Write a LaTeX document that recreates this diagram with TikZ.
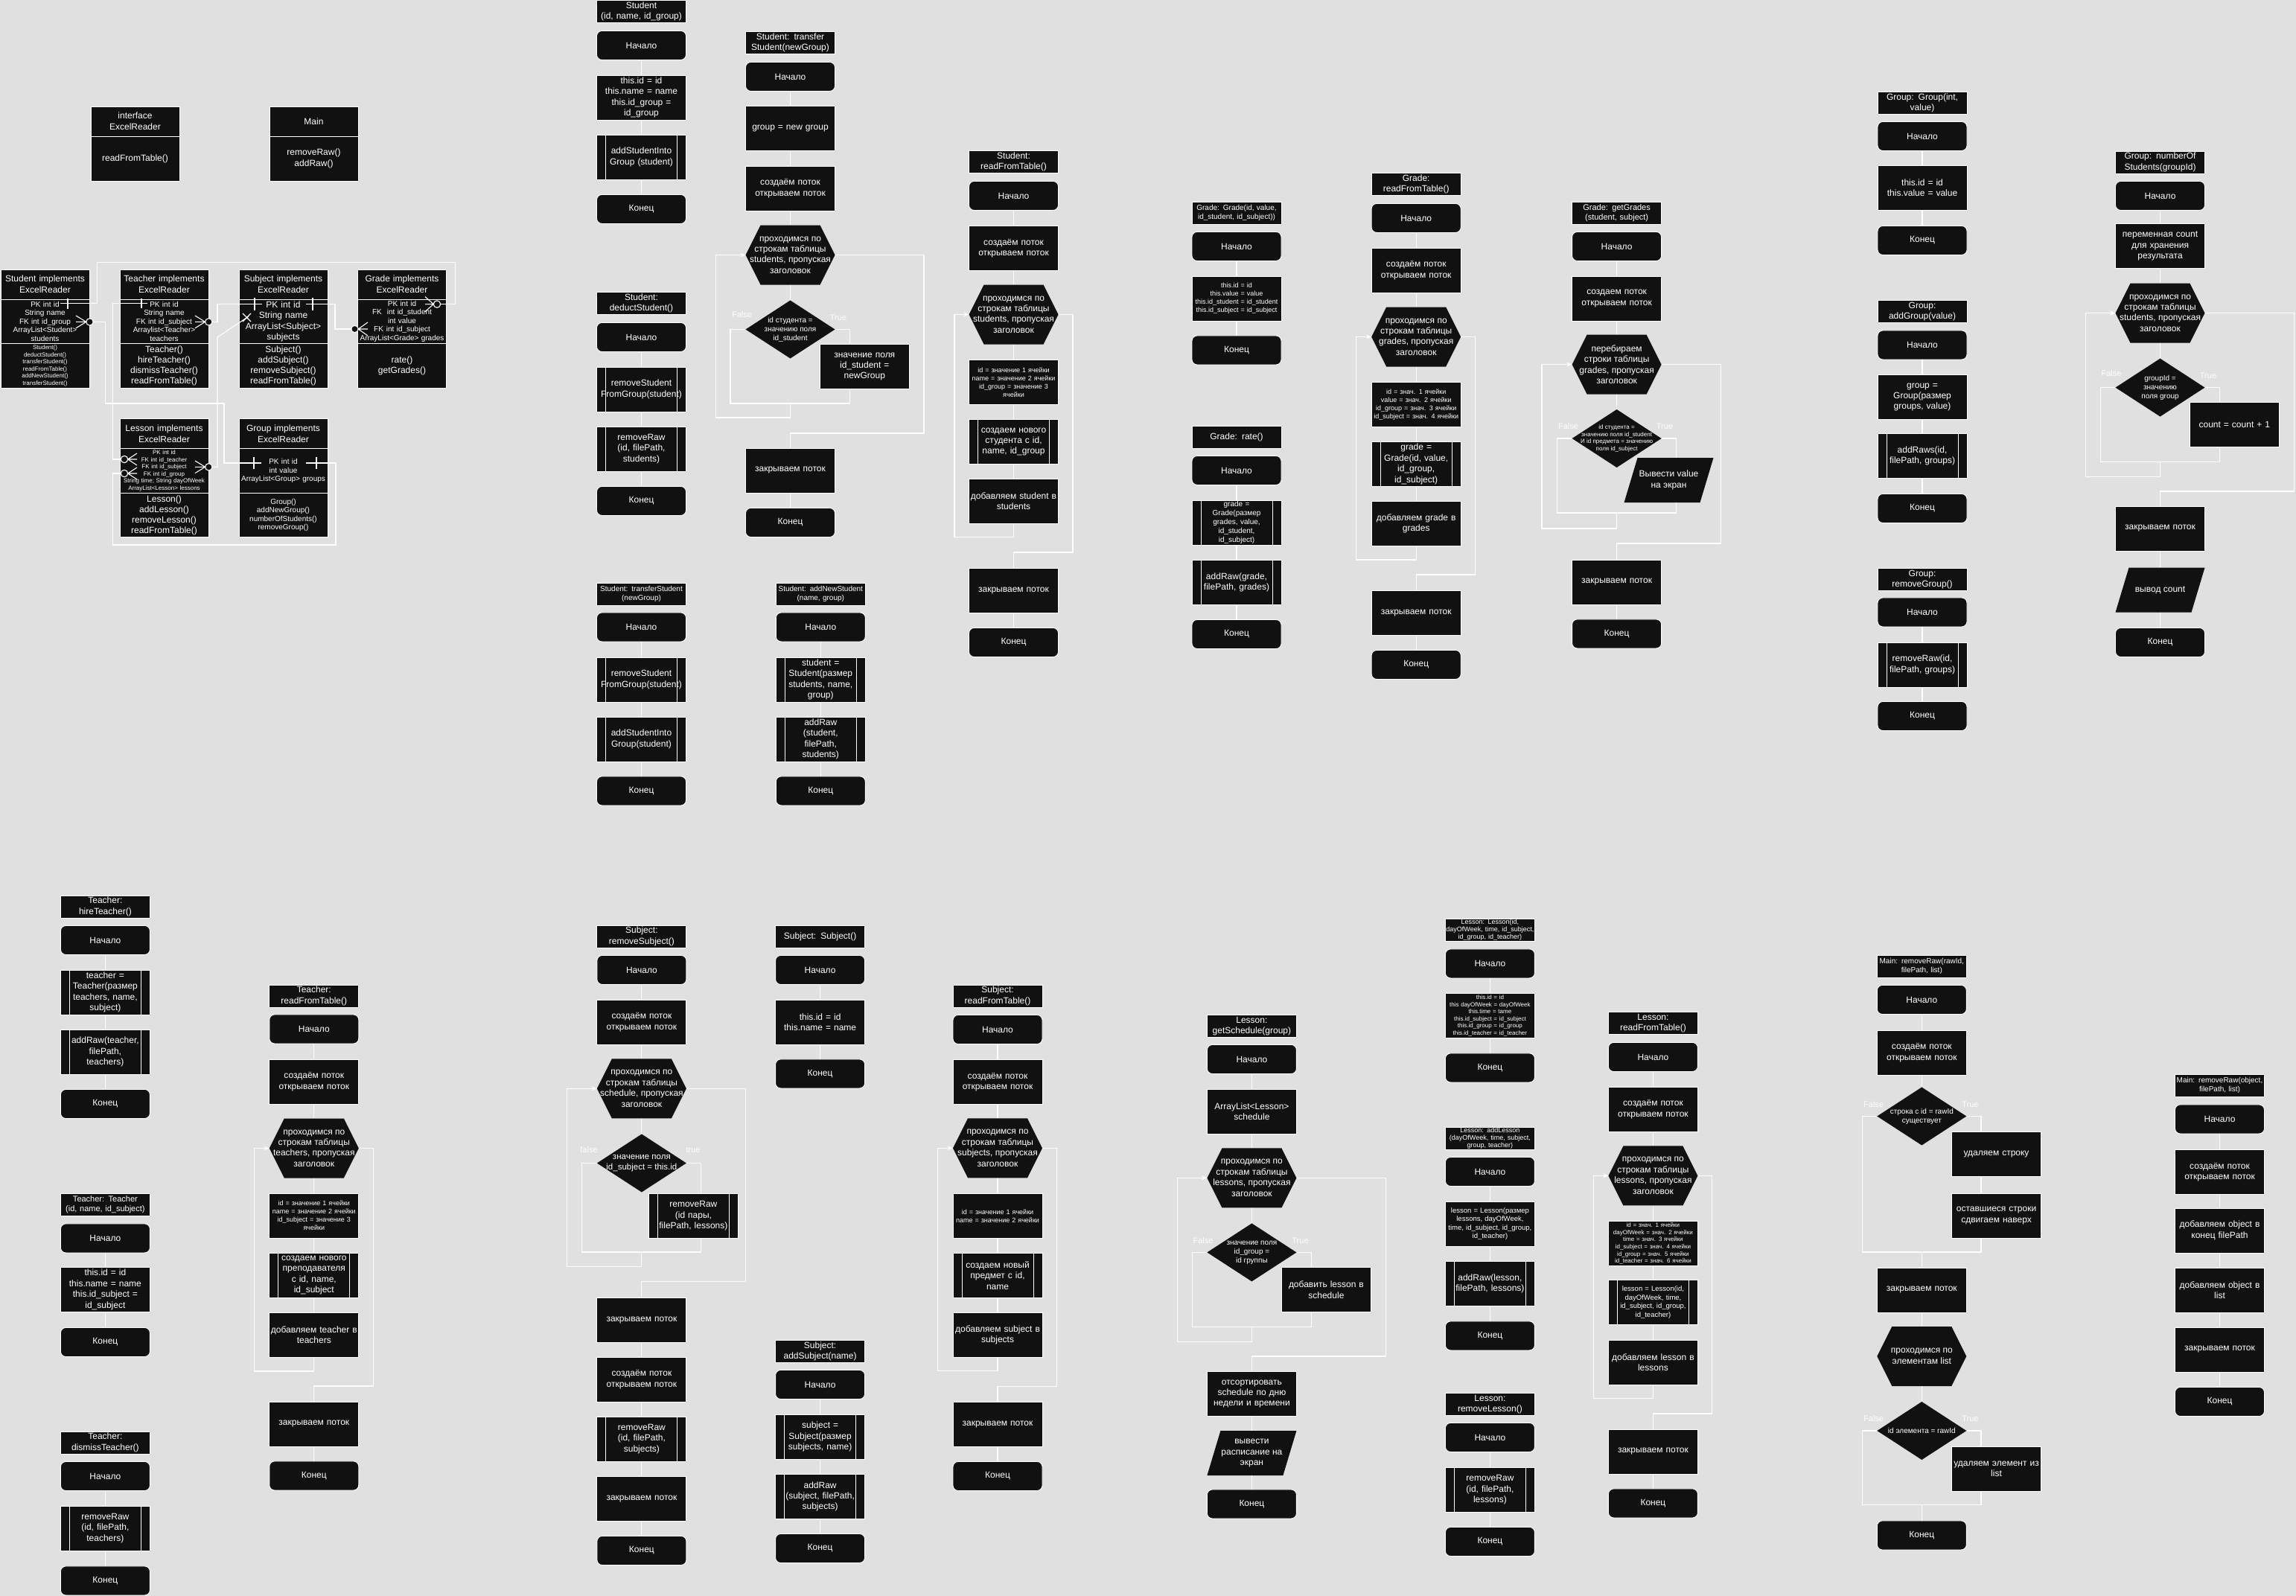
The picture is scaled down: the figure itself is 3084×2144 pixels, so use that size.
\documentclass[tikz,border=0pt]{standalone}
\usepackage{fontspec}
\setmainfont{Liberation Sans}
\usetikzlibrary{arrows.meta}
\definecolor{bgc}{HTML}{E0E0E0}
\definecolor{bx}{HTML}{111111}
\newcommand\fsN{\fontsize{12}{14.4}\selectfont}
\newcommand\fsS{\fontsize{9}{11}\selectfont}
\newcommand\fsT{\fontsize{8}{9.6}\selectfont}
\newcommand\fsD{\fontsize{10}{12}\selectfont}
\newcommand\fsC{\fontsize{10}{11.6}\selectfont}
\newcommand\fsE{\fontsize{11}{13.5}\selectfont}
\newcommand\fsF{\fontsize{9.5}{11.5}\selectfont}
\newcommand\fsL{\fontsize{9}{10}\selectfont}
\newcommand\fsU{\fontsize{12}{15}\selectfont}
\newcommand\fsV{\fontsize{12}{14}\selectfont}
\newcommand\fsW{\fontsize{12}{14.5}\selectfont}
\tikzset{
 box/.style={draw=white, line width=0.9pt, fill=bx, text=white, align=center, inner sep=1pt, minimum width=120pt, text width=118pt, anchor=north, font=\fsN},
 proc/.style={box, minimum height=60pt},
 term/.style={box, rounded corners=7pt, minimum height=39pt},
 ttl/.style={box, minimum height=30pt},
 sub/.style={proc, path picture={\draw[white,line width=0.9pt] ([xshift=12pt]path picture bounding box.north west) -- ([xshift=12pt]path picture bounding box.south west) ([xshift=-12pt]path picture bounding box.north east) -- ([xshift=-12pt]path picture bounding box.south east);}},
 cls/.style={box, text width=117pt, minimum width=119pt},
 shtxt/.style={inner sep=0pt, minimum width=120pt, minimum height=78pt, align=center, text=white, font=\fsN},
 shp/.style={fill=bx},
 ln/.style={draw=white, line width=1.1pt},
 arr/.style={ln, -{Stealth[length=7pt,width=6pt]}},
 lab/.style={text=white, font=\fsE, inner sep=0pt},
}
\newcommand\hexs[4]{\fill[shp] (#2-60,#3) -- (#2-40,#3-40) -- (#2+40,#3-40) -- (#2+60,#3) -- (#2+40,#3+40) -- (#2-40,#3+40) -- cycle;
 \node[shtxt,minimum height=80pt] (#1) at (#2,#3) {#4};}
\newcommand\dias[5]{\fill[shp] (#2-60,#3) -- (#2,#3-39) -- (#2+60,#3) -- (#2,#3+39) -- cycle;
 \node[shtxt,font=#4] (#1) at (#2,#3) {#5};}
\newcommand\paras[5]{\fill[shp] (#2-60,#3+#4/2) -- (#2-42,#3-#4/2) -- (#2+60,#3-#4/2) -- (#2+42,#3+#4/2) -- cycle;
 \node[shtxt,minimum height=#4pt] (#1) at (#2,#3) {#5};}
\begin{document}
\begin{tikzpicture}[x=1pt,y=-1pt]
\useasboundingbox (0,0) rectangle (3084,2144);
\fill[bgc] (0,0) rectangle (3084,2144);

% ================= UML =================
\node[cls,minimum height=39.5pt,font=\fsU] (ifH) at (181.5,143) {interface\\ExcelReader};
\node[cls,minimum height=60.5pt,font=\fsU] (ifB) at (181.5,182.5) {readFromTable()};
\node[cls,minimum height=39.5pt,font=\fsU] (mnH) at (421.5,143) {Main};
\node[cls,minimum height=60.5pt,font=\fsU] (mnB) at (421.5,182.5) {removeRaw()\\addRaw()};

\node[cls,minimum height=39.5pt,font=\fsU] (stuH) at (60.5,362) {Student implements\\ExcelReader};
\node[cls,minimum height=59.5pt,font=\fsC] (stuA) at (60.5,401.5) {PK int id\\String name\\FK int id\_group\\ArrayList<Student>\\students};
\node[cls,minimum height=60pt,font=\fsT] (stuM) at (60.5,461) {Student()\\deductStudent()\\transferStudent()\\readFromTable()\\addNewStudent()\\transferStudent()};

\node[cls,minimum height=39.5pt,font=\fsU] (teaH) at (220.5,362) {Teacher implements\\ExcelReader};
\node[cls,minimum height=59.5pt,font=\fsC] (teaA) at (220.5,401.5) {PK int id\\String name\\FK int id\_subject\\Arraylist<Teacher>\\teachers};
\node[cls,minimum height=60pt,font=\fsV] (teaM) at (220.5,461) {Teacher()\\hireTeacher()\\dismissTeacher()\\readFromTable()};

\node[cls,minimum height=39.5pt,font=\fsU] (subH) at (380.5,362) {Subject implements\\ExcelReader};
\node[cls,minimum height=59.5pt,font=\fsW] (subA) at (380.5,401.5) {PK int id\\String name\\ArrayList<Subject>\\subjects};
\node[cls,minimum height=60pt,font=\fsV] (subM) at (380.5,461) {Subject()\\addSubject()\\removeSubject()\\readFromTable()};

\node[cls,minimum height=39.5pt,font=\fsU] (grH) at (540,362) {Grade implements\\ExcelReader};
\node[cls,minimum height=59.5pt,font=\fsC] (grA) at (540,401.5) {PK int id\\FK\hspace{7pt}int id\_student\\int value\\FK\hspace{4pt}int id\_subject\\ArrayList<Grade> grades};
\node[cls,minimum height=60pt,font=\fsV] (grM) at (540,461) {rate()\\getGrades()};

\node[cls,minimum height=40pt,font=\fsU] (leH) at (220.5,562) {Lesson implements\\ExcelReader};
\node[cls,minimum height=60pt,font=\fsT] (leA) at (220.5,602) {PK int id\\FK int id\_teacher\\FK int id\_subject\\FK int id\_group\\String time; String dayOfWeek\\ArrayList<Lesson> lessons};
\node[cls,minimum height=59pt,font=\fsV] (leM) at (220.5,662) {Lesson()\\addLesson()\\removeLesson()\\readFromTable()};

\node[cls,minimum height=40pt,font=\fsU] (grpH) at (380.5,562) {Group implements\\ExcelReader};
\node[cls,minimum height=60pt,font=\fsC] (grpA) at (380.5,602) {PK int id\\int value\\ArrayList<Group> groups};
\node[cls,minimum height=59pt,font=\fsC] (grpM) at (380.5,662) {Group()\\addNewGroup()\\numberOfStudents()\\removeGroup()};

% ER connectors
\draw[ln] (81,407.5) -- (130.5,407.5) -- (130.5,352.5) -- (611.7,352.5) -- (611.7,408.6) -- (591.7,408.6);
\draw[ln] (91,400.5) -- (91,414.5);
\draw[ln] (571,398.6) -- (582.3,408.6) -- (571,418.6) (571,408.6) -- (582.3,408.6);
\draw[ln,fill=bx] (587,408.6) circle [radius=4.7pt];

\draw[ln] (102,424) -- (115.8,432.4) -- (102,440.8) (102,432.4) -- (115.8,432.4);
\draw[ln,fill=bx] (120.5,432.4) circle [radius=4.7pt];
\draw[ln] (125.2,432.4) -- (141.5,432.4) -- (141.5,542) -- (301,542) -- (301,622) -- (351,622);
\draw[ln] (341,614) -- (341,630);

\draw[ln] (198,407.5) -- (151.4,407.5) -- (151.4,617) -- (162.3,617);
\draw[ln] (190,401) -- (190,414);
\draw[ln,fill=bx] (167,617) circle [radius=4.7pt];
\draw[ln] (184,609) -- (171.7,617) -- (184,625) (171.7,617) -- (184,617);

\draw[ln] (262,424) -- (275.6,432.4) -- (262,440.8) (262,432.4) -- (275.6,432.4);
\draw[ln,fill=bx] (280.3,432.4) circle [radius=4.7pt];
\draw[ln] (285,432.4) -- (292,432.4) -- (292,408.6) -- (352,408.6);
\draw[ln] (342,400) -- (342,417);

\draw[ln] (411,408.6) -- (450,408.6) -- (450,442) -- (471.8,442);
\draw[ln] (420,400) -- (420,417);
\draw[ln,fill=bx] (476.5,442) circle [radius=4.7pt];
\draw[ln] (494,433) -- (481.2,442) -- (494,451) (481.2,442) -- (494,442);

\draw[ln] (326,421) -- (337,432) (326,432) -- (337,421);
\draw[ln] (334,425) -- (292,453) -- (292,627.3) -- (285,627.3);
\draw[ln,fill=bx] (280.3,627.3) circle [radius=4.7pt];
\draw[ln] (262,619) -- (275.6,627.3) -- (262,635.6) (262,627.3) -- (275.6,627.3);

\draw[ln,fill=bx] (167,636) circle [radius=4.7pt];
\draw[ln] (184,628) -- (171.7,636) -- (184,644) (171.7,636) -- (184,636);
\draw[ln] (162.3,636) -- (151.4,636) -- (151.4,732) -- (451,732) -- (451,622) -- (411,622);
\draw[ln] (425,614) -- (425,630);

% ================= Column A =================
\node[ttl] (A1) at (861.5,0) {Student\\(id, name, id\_group)};
\node[term] (A2) at (861.5,41) {Начало};
\node[proc] (A3) at (861.5,100.5) {this.id = id\\this.name = name\\this.id\_group =\\id\_group};
\node[sub] (A4) at (861.5,180.5) {addStudentInto\\Group (student)};
\node[term] (A5) at (861.5,261) {Конец};
\draw[ln] (A2.south)--(A3.north) (A3.south)--(A4.north) (A4.south)--(A5.north);
\node[ttl] (A6) at (861.5,392) {Student:\\deductStudent()};
\node[term] (A7) at (861.5,433) {Начало};
\node[sub] (A8) at (861.5,492.5) {removeStudent\\FromGroup(student)};
\node[sub] (A9) at (861.5,572.5) {removeRaw\\(id, filePath,\\students)};
\node[term] (A10) at (861.5,653) {Конец};
\draw[ln] (A7.south)--(A8.north) (A8.south)--(A9.north) (A9.south)--(A10.north);
\node[ttl,font=\fsD] (A11) at (861.5,782.5) {Student: transferStudent\\(newGroup)};
\node[term] (A12) at (861.5,822.5) {Начало};
\node[sub] (A13) at (861.5,882.5) {removeStudent\\FromGroup(student)};
\node[sub] (A14) at (861.5,962.5) {addStudentInto\\Group(student)};
\node[term] (A15) at (861.5,1042.5) {Конец};
\draw[ln] (A12.south)--(A13.north) (A13.south)--(A14.north) (A14.south)--(A15.north);

% addNewStudent
\node[ttl,font=\fsD] (N1) at (1102.3,782.5) {Student: addNewStudent\\(name, group)};
\node[term] (N2) at (1102.3,822.5) {Начало};
\node[sub] (N3) at (1102.3,882.5) {student =\\Student(размер\\students, name,\\group)};
\node[sub] (N4) at (1102.3,962.5) {addRaw\\(student,\\filePath,\\students)};
\node[term] (N5) at (1102.3,1042.5) {Конец};
\draw[ln] (N2.south)--(N3.north) (N3.south)--(N4.north) (N4.south)--(N5.north);

% ================= Column B: transferStudent =================
\node[ttl] (B1) at (1061.5,42) {Student: transfer\\Student(newGroup)};
\node[term] (B2) at (1061.5,83) {Начало};
\node[proc] (B3) at (1061.5,142) {group = new group};
\node[proc] (B4) at (1061.5,222.5) {создаём поток\\открываем поток};
\hexs{B5}{1061.5}{342.5}{проходимся по\\строкам таблицы\\students, пропуская\\заголовок}
\dias{B6}{1061.5}{442.5}{\fsD}{id студента =\\значению поля\\id\_student}
\node[proc] (B7) at (1161.3,462) {значение поля\\id\_student =\\newGroup};
\node[proc] (B8) at (1061.5,601.5) {закрываем поток};
\node[term] (B9) at (1061.5,682) {Конец};
\draw[ln] (B2.south)--(B3.north) (B3.south)--(B4.north) (B4.south)--(B5.north) (B5.south)--(B6.north) (B8.south)--(B9.north);
\draw[ln] (B6.west) -- (981,442.5) -- (981,542) -- (1141.5,542) -- (1141.5,522);
\draw[ln] (B6.east) -- (1141.5,442.5) -- (1141.5,462);
\draw[arr] (1061.5,542) -- (1061.5,561) -- (961.5,561) -- (961.5,342.5) -- (B5.west);
\draw[ln] (B5.east) -- (1241,342.5) -- (1241,582) -- (1061.5,582) -- (B8.north);
\node[lab] (B6f) at (996.5,423) {False};
\node[lab] (B6t) at (1126,427) {True};

% ================= Column C: Student readFromTable =================
\node[ttl] (C1) at (1361.5,202) {Student:\\readFromTable()};
\node[term] (C2) at (1361.5,243) {Начало};
\node[proc] (C3) at (1361.5,303) {создаём поток\\открываем поток};
\hexs{C4}{1361.5}{422.5}{проходимся по\\строкам таблицы\\students, пропуская\\заголовок}
\node[proc,font=\fsS] (C5) at (1361.5,483) {id = значение 1 ячейки\\name = значение 2 ячейки\\id\_group = значение 3\\ячейки};
\node[sub] (C6) at (1361.5,563) {создаем нового\\студента с id,\\name, id\_group};
\node[proc] (C7) at (1361.5,643) {добавляем student в\\students};
\node[proc] (C8) at (1361.5,763) {закрываем поток};
\node[term] (C9) at (1361.5,843) {Конец};
\draw[ln] (C2.south)--(C3.north) (C3.south)--(C4.north) (C4.south)--(C5.north) (C5.south)--(C6.north) (C6.south)--(C7.north) (C8.south)--(C9.north);
\draw[arr] (C7.south) -- (1361.5,721.5) -- (1282,721.5) -- (1282,422.5) -- (C4.west);
\draw[ln] (C4.east) -- (1441,422.5) -- (1441,742) -- (1361.5,742) -- (C8.north);

% ================= Column D: Grade =================
\node[ttl,font=\fsD] (D1) at (1661,270.5) {Grade: Grade(id, value,\\id\_student, id\_subject))};
\node[term] (D2) at (1661,311) {Начало};
\node[proc,font=\fsS] (D3) at (1661,370.5) {this.id = id\\this.value = value\\this.id\_student = id\_student\\this.id\_subject = id\_subject};
\node[term] (D4) at (1661,450.5) {Конец};
\draw[ln] (D2.south)--(D3.north) (D3.south)--(D4.north);
\node[ttl] (D5) at (1661,571.5) {Grade: rate()};
\node[term] (D6) at (1661,612) {Начало};
\node[sub,font=\fsD] (D7) at (1661,671.5) {grade =\\Grade(размер\\grades, value,\\id\_student,\\id\_subject)};
\node[sub] (D8) at (1661,752) {addRaw(grade,\\filePath, grades)};
\node[term] (D9) at (1661,832) {Конец};
\draw[ln] (D6.south)--(D7.north) (D7.south)--(D8.north) (D8.south)--(D9.north);

% ================= Column E: Grade readFromTable =================
\node[ttl] (E1) at (1902.2,232) {Grade:\\readFromTable()};
\node[term] (E2) at (1902.2,273) {Начало};
\node[proc] (E3) at (1902.2,332.5) {создаём поток\\открываем поток};
\hexs{E4}{1902.2}{452.5}{проходимся по\\строкам таблицы\\grades, пропуская\\заголовок}
\node[proc,font=\fsS] (E5) at (1902.2,513) {id = знач. 1 ячейки\\value = знач. 2 ячейки\\id\_group = знач. 3 ячейки\\id\_subject = знач. 4 ячейки};
\node[sub] (E6) at (1902.2,593) {grade =\\Grade(id, value,\\id\_group,\\id\_subject)};
\node[proc] (E7) at (1902.2,673) {добавляем grade в\\grades};
\node[proc] (E8) at (1902.2,793) {закрываем поток};
\node[term] (E9) at (1902.2,873) {Конец};
\draw[ln] (E2.south)--(E3.north) (E3.south)--(E4.north) (E4.south)--(E5.north) (E5.south)--(E6.north) (E6.south)--(E7.north) (E8.south)--(E9.north);
\draw[arr] (E7.south) -- (1902.2,752) -- (1821.7,752) -- (1821.7,452.5) -- (E4.west);
\draw[ln] (E4.east) -- (1981.6,452.5) -- (1981.6,772) -- (1902.2,772) -- (E8.north);

% ================= Column F: getGrades =================
\node[ttl,font=\fsE] (F1) at (2171.6,270.5) {Grade: getGrades\\(student, subject)};
\node[term] (F2) at (2171.6,311) {Начало};
\node[proc] (F3) at (2171.6,370.5) {создаем поток\\открываем поток};
\hexs{F4}{2171.6}{489.5}{перебираем\\строки таблицы\\grades, пропуская\\заголовок}
\dias{F5}{2171.6}{589}{\fsT}{id студента =\\значению поля id\_student\\И id предмета = значению\\поля id\_subject}
\paras{F6}{2241.5}{645}{60}{Вывести value\\на экран}
\node[proc] (F7) at (2171.6,751.5) {закрываем поток};
\node[term] (F8) at (2171.6,831.5) {Конец};
\draw[ln] (F2.south)--(F3.north) (F3.south)--(F4.north) (F4.south)--(F5.north) (F7.south)--(F8.north);
\draw[ln] (F5.west) -- (2091.5,589) -- (2091.5,689) -- (2251.6,689) -- (2251.6,675);
\draw[ln] (F5.east) -- (2251.6,589) -- (2251.6,615);
\draw[arr] (2171.6,689) -- (2171.6,710) -- (2071,710) -- (2071,489.5) -- (F4.west);
\draw[ln] (F4.east) -- (2311.4,489.5) -- (2311.4,730) -- (2171.6,730) -- (F7.north);
\node[lab] (F5f) at (2106.5,573) {False};
\node[lab] (F5t) at (2236,573) {True};

% ================= Column G: Group =================
\node[ttl] (G1) at (2582,123) {Group: Group(int,\\value)};
\node[term] (G2) at (2582,163) {Начало};
\node[proc] (G3) at (2582,222) {this.id = id\\this.value = value};
\node[term] (G4) at (2582,303) {Конец};
\draw[ln] (G2.south)--(G3.north) (G3.south)--(G4.north);
\node[ttl] (G5) at (2582,403) {Group:\\addGroup(value)};
\node[term] (G6) at (2582,443.5) {Начало};
\node[proc] (G7) at (2582,503) {group =\\Group(размер\\groups, value)};
\node[sub] (G8) at (2582,582) {addRaws(id,\\filePath, groups)};
\node[term] (G9) at (2582,663) {Конец};
\draw[ln] (G6.south)--(G7.north) (G7.south)--(G8.north) (G8.south)--(G9.north);
\node[ttl] (G10) at (2582,763) {Group:\\removeGroup()};
\node[term] (G11) at (2582,802.5) {Начало};
\node[sub] (G12) at (2582,862.5) {removeRaw(id,\\filePath, groups)};
\node[term] (G13) at (2582,942) {Конец};
\draw[ln] (G11.south)--(G12.north) (G12.south)--(G13.north);

% ================= Column H: numberOfStudents =================
\node[ttl] (H1) at (2901.5,202.5) {Group: numberOf\\Students(groupId)};
\node[term] (H2) at (2901.5,243) {Начало};
\node[proc] (H3) at (2901.5,300) {переменная count\\для хранения\\результата};
\hexs{H4}{2901.5}{420.6}{проходимся по\\строкам таблицы\\students, пропуская\\заголовок}
\dias{H5}{2901.5}{520.6}{\fsD}{groupId =\\значению\\поля group}
\node[proc] (H6) at (3001.3,540) {count = count + 1};
\node[proc] (H7) at (2901.5,679.5) {закрываем поток};
\paras{H8}{2901.5}{792.5}{60}{вывод count}
\node[term] (H9) at (2901.5,843) {Конец};
\draw[ln] (H2.south)--(H3.north) (H3.south)--(H4.north) (H4.south)--(H5.north) (H7.south)--(H8.north) (H8.south)--(H9.north);
\draw[ln] (H5.west) -- (2821.4,520.6) -- (2821.4,620.4) -- (2981.6,620.4) -- (2981.6,600);
\draw[ln] (H5.east) -- (2981.6,520.6) -- (2981.6,540);
\draw[arr] (2901.5,620.4) -- (2901.5,640.3) -- (2801.3,640.3) -- (2801.3,420.6) -- (H4.west);
\draw[ln] (H4.east) -- (3081.7,420.6) -- (3081.7,660) -- (2901.5,660) -- (H7.north);
\node[lab] (H5f) at (2836,501.7) {False};
\node[lab] (H5t) at (2966,505) {True};

% ================= Column T: Teacher =================
\node[ttl] (T1) at (141.4,1202.5) {Teacher:\\hireTeacher()};
\node[term] (T2) at (141.4,1243) {Начало};
\node[sub] (T3) at (141.4,1302.5) {teacher =\\Teacher(размер\\teachers, name,\\subject)};
\node[sub] (T4) at (141.4,1382.5) {addRaw(teacher,\\filePath,\\teachers)};
\node[term] (T5) at (141.4,1463) {Конец};
\draw[ln] (T2.south)--(T3.north) (T3.south)--(T4.north) (T4.south)--(T5.north);
\node[ttl,font=\fsE] (T6) at (141.4,1602.5) {Teacher: Teacher\\(id, name, id\_subject)};
\node[term] (T7) at (141.4,1643.5) {Начало};
\node[proc] (T8) at (141.4,1702) {this.id = id\\this.name = name\\this.id\_subject =\\id\_subject};
\node[term] (T9) at (141.4,1783) {Конец};
\draw[ln] (T7.south)--(T8.north) (T8.south)--(T9.north);
\node[ttl] (T10) at (141.4,1922.5) {Teacher:\\dismissTeacher()};
\node[term] (T11) at (141.4,1963) {Начало};
\node[sub] (T12) at (141.4,2022.5) {removeRaw\\(id, filePath,\\teachers)};
\node[term] (T13) at (141.4,2103.5) {Конец};
\draw[ln] (T11.south)--(T12.north) (T12.south)--(T13.north);

% ================= Column R: Teacher readFromTable =================
\node[ttl] (R1) at (421.8,1322.5) {Teacher:\\readFromTable()};
\node[term] (R2) at (421.8,1362.5) {Начало};
\node[proc] (R3) at (421.8,1422.5) {создаём поток\\открываем поток};
\hexs{R4}{421.8}{1542.5}{проходимся по\\строкам таблицы\\teachers, пропуская\\заголовок}
\node[proc,font=\fsS] (R5) at (421.8,1602.5) {id = значение 1 ячейки\\name = значение 2 ячейки\\id\_subject = значение 3\\ячейки};
\node[sub] (R6) at (421.8,1682.5) {создаем нового\\преподавателя\\с id, name,\\id\_subject};
\node[proc] (R7) at (421.8,1762.5) {добавляем teacher в\\teachers};
\node[proc] (R8) at (421.8,1882.5) {закрываем поток};
\node[term] (R9) at (421.8,1962.5) {Конец};
\draw[ln] (R2.south)--(R3.north) (R3.south)--(R4.north) (R4.south)--(R5.north) (R5.south)--(R6.north) (R6.south)--(R7.north) (R8.south)--(R9.north);
\draw[arr] (R7.south) -- (421.8,1842) -- (341.6,1842) -- (341.6,1542.5) -- (R4.west);
\draw[ln] (R4.east) -- (501.4,1542.5) -- (501.4,1862) -- (421.8,1862) -- (R8.north);

% ================= Column S: removeSubject =================
\node[ttl] (S1) at (861.9,1242.5) {Subject:\\removeSubject()};
\node[term] (S2) at (861.9,1283) {Начало};
\node[proc] (S3) at (861.9,1342.5) {создаём поток\\открываем поток};
\hexs{S4}{861.9}{1462.4}{проходимся по\\строкам таблицы\\schedule, пропуская\\заголовок}
\dias{S5}{861.9}{1562.5}{\fontsize{11.5}{14}\selectfont}{значение поля\\id\_subject = this.id}
\node[sub] (S6) at (931.4,1603) {removeRaw\\(id пары,\\filePath, lessons)};
\node[proc] (S7) at (861.9,1743) {закрываем поток};
\node[proc] (S8) at (861.9,1822.5) {создаём поток\\открываем поток};
\node[sub] (S9) at (861.9,1902.5) {removeRaw\\(id, filePath,\\subjects)};
\node[proc] (S10) at (861.9,1983) {закрываем поток};
\node[term] (S11) at (861.9,2063) {Конец};
\draw[ln] (S2.south)--(S3.north) (S3.south)--(S4.north) (S4.south)--(S5.north) (S7.south)--(S8.north) (S8.south)--(S9.north) (S9.south)--(S10.north) (S10.south)--(S11.north);
\draw[ln] (S5.west) -- (781.3,1562.5) -- (781.3,1682) -- (941.6,1682) -- (941.6,1663);
\draw[ln] (S5.east) -- (941.6,1562.5) -- (941.6,1603);
\draw[arr] (861.9,1682) -- (861.9,1701.2) -- (761.6,1701.2) -- (761.6,1462.4) -- (S4.west);
\draw[ln] (S4.east) -- (1001.2,1462.4) -- (1001.2,1721.8) -- (861.9,1721.8) -- (S7.north);
\node[lab] (S5f) at (791,1544.5) {false};
\node[lab] (S5t) at (931,1544.5) {true};

% ================= Column U: Subject() / addSubject =================
\node[ttl] (U1) at (1101.6,1242.5) {Subject: Subject()};
\node[term] (U2) at (1101.6,1283) {Начало};
\node[proc] (U3) at (1101.6,1342.5) {this.id = id\\this.name = name};
\node[term] (U4) at (1101.6,1422.5) {Конец};
\draw[ln] (U2.south)--(U3.north) (U3.south)--(U4.north);
\node[ttl] (U5) at (1101.6,1800) {Subject:\\addSubject(name)};
\node[term] (U6) at (1101.6,1840) {Начало};
\node[sub] (U7) at (1101.6,1899.5) {subject =\\Subject(размер\\subjects, name)};
\node[sub] (U8) at (1101.6,1980) {addRaw\\(subject, filePath,\\subjects)};
\node[term] (U9) at (1101.6,2060) {Конец};
\draw[ln] (U6.south)--(U7.north) (U7.south)--(U8.north) (U8.south)--(U9.north);

% ================= Column V: Subject readFromTable =================
\node[ttl] (V1) at (1340,1322.5) {Subject:\\readFromTable()};
\node[term] (V2) at (1340,1363) {Начало};
\node[proc] (V3) at (1340,1423) {создаём поток\\открываем поток};
\hexs{V4}{1340}{1542.3}{проходимся по\\строкам таблицы\\subjects, пропуская\\заголовок}
\node[proc,font=\fsS] (V5) at (1340,1603) {id = значение 1 ячейки\\name = значение 2 ячейки};
\node[sub] (V6) at (1340,1683) {создаем новый\\предмет с id,\\name};
\node[proc] (V7) at (1340,1763) {добавляем subject в\\subjects};
\node[proc] (V8) at (1340,1883) {закрываем поток};
\node[term] (V9) at (1340,1963) {Конец};
\draw[ln] (V2.south)--(V3.north) (V3.south)--(V4.north) (V4.south)--(V5.north) (V5.south)--(V6.north) (V6.south)--(V7.north) (V8.south)--(V9.north);
\draw[arr] (V7.south) -- (1340,1841.4) -- (1259.6,1841.4) -- (1259.6,1542.3) -- (V4.west);
\draw[ln] (V4.east) -- (1419.6,1542.3) -- (1419.6,1862.3) -- (1340,1862.3) -- (V8.north);

% ================= Column W: getSchedule =================
\node[ttl] (W1) at (1681.4,1363) {Lesson:\\getSchedule(group)};
\node[term] (W2) at (1681.4,1403) {Начало};
\node[proc] (W3) at (1681.4,1462.5) {ArrayList<Lesson>\\schedule};
\hexs{W4}{1681.4}{1582.4}{проходимся по\\строкам таблицы\\lessons, пропуская\\заголовок}
\dias{W5}{1681.4}{1682.4}{\fsD}{значение поля\\id\_group =\\id группы}
\node[proc] (W6) at (1781.4,1702.3) {добавить lesson в\\schedule};
\node[proc] (W7) at (1681.4,1842) {отсортировать\\schedule по дню\\недели и времени};
\paras{W8}{1681.4}{1952}{60}{вывести\\расписание на\\экран}
\node[term] (W9) at (1681.4,2000.5) {Конец};
\draw[ln] (W2.south)--(W3.north) (W3.south)--(W4.north) (W4.south)--(W5.north) (W7.south)--(W8.north) (W8.south)--(W9.north);
\draw[ln] (W5.west) -- (1601.2,1682.4) -- (1601.2,1782.3) -- (1761.2,1782.3) -- (1761.2,1762.3);
\draw[ln] (W5.east) -- (1761.2,1682.4) -- (1761.2,1702.3);
\draw[arr] (1681.4,1782.3) -- (1681.4,1802.2) -- (1581.2,1802.2) -- (1581.2,1582.4) -- (W4.west);
\draw[ln] (W4.east) -- (1861.2,1582.4) -- (1861.2,1822) -- (1681.4,1822) -- (W7.north);
\node[lab] (W5f) at (1616,1666.5) {False};
\node[lab] (W5t) at (1746.5,1666.5) {True};

% ================= Column L: Lesson =================
\node[ttl,font=\fsL] (L1) at (2001.4,1233.5) {Lesson: Lesson(id,\\dayOfWeek, time, id\_subject,\\id\_group, id\_teacher)};
\node[term] (L2) at (2001.4,1274.5) {Начало};
\node[proc,font=\fsT] (L3) at (2001.4,1334) {this.id = id\\this dayOfWeek = dayOfWeek\\this.time = tame\\this.id\_subject = id\_subject\\this.id\_group = id\_group\\this.id\_teacher = id\_teacher};
\node[term] (L4) at (2001.4,1414.5) {Конец};
\draw[ln] (L2.south)--(L3.north) (L3.south)--(L4.north);
\node[ttl,font=\fsL] (L5) at (2001.4,1514) {Lesson: addLesson\\(dayOfWeek, time, subject,\\group, teacher)};
\node[term] (L6) at (2001.4,1554) {Начало};
\node[proc,font=\fsF] (L7) at (2001.4,1613.5) {lesson = Lesson(размер\\lessons, dayOfWeek,\\time, id\_subject, id\_group,\\id\_teacher)};
\node[sub] (L8) at (2001.4,1694) {addRaw(lesson,\\filePath, lessons)};
\node[term] (L9) at (2001.4,1774.5) {Конец};
\draw[ln] (L6.south)--(L7.north) (L7.south)--(L8.north) (L8.south)--(L9.north);
\node[ttl] (L10) at (2001.4,1871) {Lesson:\\removeLesson()};
\node[term] (L11) at (2001.4,1911) {Начало};
\node[sub] (L12) at (2001.4,1971) {removeRaw\\(id, filePath,\\lessons)};
\node[term] (L13) at (2001.4,2051) {Конец};
\draw[ln] (L11.south)--(L12.north) (L12.south)--(L13.north);

% ================= Column X: Lesson readFromTable =================
\node[ttl] (X1) at (2220.4,1359) {Lesson:\\readFromTable()};
\node[term] (X2) at (2220.4,1400) {Начало};
\node[proc] (X3) at (2220.4,1459.5) {создаём поток\\открываем поток};
\hexs{X4}{2220.4}{1579.4}{проходимся по\\строкам таблицы\\lessons, пропуская\\заголовок}
\node[proc,font=\fsT] (X5) at (2220.4,1640) {id = знач. 1 ячейки\\dayOfWeek = знач. 2 ячейки\\time = знач. 3 ячейки\\id\_subject = знач. 4 ячейки\\id\_group = знач. 5 ячейки\\id\_teacher = знач. 6 ячейки};
\node[sub,font=\fsF] (X6) at (2220.4,1719) {lesson = Lesson(id,\\dayOfWeek, time,\\id\_subject, id\_group,\\id\_teacher)};
\node[proc] (X7) at (2220.4,1799.5) {добавляем lesson в\\lessons};
\node[proc] (X8) at (2220.4,1919.5) {закрываем поток};
\node[term] (X9) at (2220.4,1999.5) {Конец};
\draw[ln] (X2.south)--(X3.north) (X3.south)--(X4.north) (X4.south)--(X5.north) (X5.south)--(X6.north) (X6.south)--(X7.north) (X8.south)--(X9.north);
\draw[arr] (X7.south) -- (2220.4,1878.8) -- (2140.2,1878.8) -- (2140.2,1579.4) -- (X4.west);
\draw[ln] (X4.east) -- (2299.7,1579.4) -- (2299.7,1899) -- (2220.4,1899) -- (X8.north);

% ================= Column M: Main removeRaw(rawId) =================
\node[ttl,font=\fsD] (M1) at (2581.3,1282.5) {Main: removeRaw(rawId,\\filePath, list)};
\node[term] (M2) at (2581.3,1323) {Начало};
\node[proc] (M3) at (2581.3,1383.5) {создаём поток\\открываем поток};
\dias{M4}{2581.3}{1499.5}{\fsD}{строка с id = rawId\\существует}
\node[proc] (M5) at (2681.5,1520) {удаляем строку};
\node[proc] (M6) at (2681.5,1602.5) {оставшиеся строки\\сдвигаем наверх};
\node[proc] (M7) at (2581.3,1702.5) {закрываем поток};
\hexs{M8}{2581.3}{1822}{проходимся по\\элементам list}
\dias{M9}{2581.3}{1922}{\fsD}{id элемента = rawId}
\node[proc] (M10) at (2681.5,1942.8) {удаляем элемент из\\list};
\node[term] (M11) at (2581.3,2042.5) {Конец};
\draw[ln] (M2.south)--(M3.north) (M3.south)--(M4.north) (M7.south)--(M8.north) (M8.south)--(M9.north);
\draw[ln] (M4.west) -- (2501.6,1499.5) -- (2501.6,1682) -- (2661,1682) -- (2661,1662.5);
\draw[ln] (M4.east) -- (2661,1499.5) -- (2661,1520);
\draw[ln] (2661,1580) -- (2661,1602.5);
\draw[ln] (2581.3,1682) -- (M7.north);
\draw[ln] (M9.west) -- (2501.6,1922) -- (2501.6,2021.7) -- (2661,2021.7) -- (2661,2002.8);
\draw[ln] (M9.east) -- (2661,1922) -- (2661,1942.8);
\draw[ln] (2581.3,2021.7) -- (M11.north);
\node[lab] (M4f) at (2516.6,1484) {False};
\node[lab] (M4t) at (2646.4,1484) {True};
\node[lab] (M9f) at (2516.6,1906) {False};
\node[lab] (M9t) at (2646.4,1906) {True};

% ================= Column O: Main removeRaw(object) =================
\node[ttl,font=\fsD] (O1) at (2981.5,1442.5) {Main: removeRaw(object,\\filePath, list)};
\node[term] (O2) at (2981.5,1483.5) {Начало};
\node[proc] (O3) at (2981.5,1544) {создаём поток\\открываем поток};
\node[proc] (O4) at (2981.5,1622.5) {добавляем object в\\конец filePath};
\node[proc] (O5) at (2981.5,1702.5) {добавляем object в\\list};
\node[proc] (O6) at (2981.5,1782.5) {закрываем поток};
\node[term] (O7) at (2981.5,1863) {Конец};
\draw[ln] (O2.south)--(O3.north) (O3.south)--(O4.north) (O4.south)--(O5.north) (O5.south)--(O6.north) (O6.south)--(O7.north);
\end{tikzpicture}
\end{document}
